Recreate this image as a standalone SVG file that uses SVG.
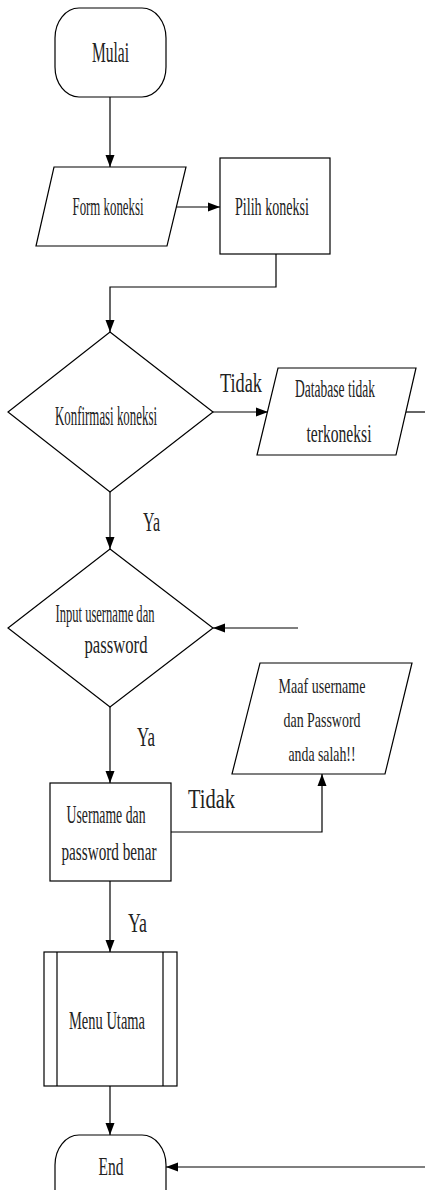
<svg xmlns="http://www.w3.org/2000/svg" width="425" height="1190" viewBox="0 0 425 1190">
<style>
.s{fill:#fff;stroke:#000;stroke-width:1.2}
.c{fill:none;stroke:#000;stroke-width:1.2}
text{font-family:"Liberation Serif","Times New Roman",serif;fill:#222;text-anchor:middle}
</style>
<defs>
<marker id="ah" markerUnits="userSpaceOnUse" markerWidth="12" markerHeight="12" viewBox="0 0 12 12" refX="12" refY="6" orient="auto">
<path d="M0,1.5 L12,6 L0,10.5 Z" fill="#000"/>
</marker>
</defs>
<rect width="425" height="1190" fill="#fff"/>
<g id="connectors">
<path class="c" d="M110,97 V167" marker-end="url(#ah)"/>
<path class="c" d="M176,207 H220" marker-end="url(#ah)"/>
<path class="c" d="M276,254 V287 H110 V332" marker-end="url(#ah)"/>
<path class="c" d="M213,412 H268" marker-end="url(#ah)"/>
<path class="c" d="M406,412 H425"/>
<path class="c" d="M110,492 V549" marker-end="url(#ah)"/>
<path class="c" d="M298,628 H213" marker-end="url(#ah)"/>
<path class="c" d="M110,707 V783" marker-end="url(#ah)"/>
<path class="c" d="M171,832 H322 V774" marker-end="url(#ah)"/>
<path class="c" d="M110,881 V952" marker-end="url(#ah)"/>
<path class="c" d="M110,1086 V1135" marker-end="url(#ah)"/>
<path class="c" d="M425,1167 H166" marker-end="url(#ah)"/>
<text x="241" y="392" font-size="28" textLength="42" lengthAdjust="spacingAndGlyphs">Tidak</text>
<text x="151.5" y="531" font-size="27" textLength="17" lengthAdjust="spacingAndGlyphs">Ya</text>
<text x="146" y="746" font-size="27" textLength="18" lengthAdjust="spacingAndGlyphs">Ya</text>
<text x="211.5" y="808" font-size="28" textLength="47" lengthAdjust="spacingAndGlyphs">Tidak</text>
<text x="137.5" y="932" font-size="27" textLength="19" lengthAdjust="spacingAndGlyphs">Ya</text>
</g>
<g id="mulai">
<rect class="s" x="55" y="8" width="111" height="89" rx="24" ry="30"/>
<text x="110.5" y="62" font-size="30" textLength="37" lengthAdjust="spacingAndGlyphs">Mulai</text>
</g>
<g id="form-koneksi">
<polygon class="s" points="54,167 186,167 167,246 36,246"/>
<text x="108" y="215" font-size="26" textLength="71" lengthAdjust="spacingAndGlyphs">Form koneksi</text>
</g>
<g id="pilih-koneksi">
<rect class="s" x="220" y="158" width="110" height="96"/>
<text x="272" y="215" font-size="26" textLength="74" lengthAdjust="spacingAndGlyphs">Pilih koneksi</text>
</g>
<g id="konfirmasi-koneksi">
<polygon class="s" points="110,332 213,412 110,492 8,412"/>
<text x="106" y="425" font-size="28" textLength="102" lengthAdjust="spacingAndGlyphs">Konfirmasi koneksi</text>
</g>
<g id="database-tidak-terkoneksi">
<polygon class="s" points="278,368 416,368 396,455 257,455"/>
<text x="335" y="397" font-size="25" textLength="80" lengthAdjust="spacingAndGlyphs">Database tidak</text>
<text x="339" y="442" font-size="25" textLength="65" lengthAdjust="spacingAndGlyphs">terkoneksi</text>
</g>
<g id="input-username">
<polygon class="s" points="110,549 213,628 110,707 8,628"/>
<text x="105" y="622" font-size="25" textLength="99" lengthAdjust="spacingAndGlyphs">Input username dan</text>
<text x="116" y="653" font-size="25" textLength="63" lengthAdjust="spacingAndGlyphs">password</text>
</g>
<g id="maaf">
<polygon class="s" points="260,663 412,663 385,774 232,774"/>
<text x="322" y="693" font-size="22" textLength="87" lengthAdjust="spacingAndGlyphs">Maaf  username</text>
<text x="322" y="727" font-size="22" textLength="77" lengthAdjust="spacingAndGlyphs">dan  Password</text>
<text x="322" y="761" font-size="22" textLength="67" lengthAdjust="spacingAndGlyphs">anda salah!!</text>
</g>
<g id="username-benar">
<rect class="s" x="50" y="783" width="121" height="98"/>
<text x="106" y="823" font-size="26" textLength="79" lengthAdjust="spacingAndGlyphs">Username dan</text>
<text x="109" y="860" font-size="26" textLength="95" lengthAdjust="spacingAndGlyphs">password benar</text>
</g>
<g id="menu-utama">
<rect class="s" x="44" y="952" width="133" height="134"/>
<line class="c" x1="57" y1="952" x2="57" y2="1086"/>
<line class="c" x1="163" y1="952" x2="163" y2="1086"/>
<text x="107" y="1029" font-size="26" textLength="76" lengthAdjust="spacingAndGlyphs">Menu Utama</text>
</g>
<g id="end">
<rect class="s" x="55" y="1135" width="111" height="89" rx="24" ry="30"/>
<text x="111" y="1175" font-size="26" textLength="25" lengthAdjust="spacingAndGlyphs">End</text>
</g>
</svg>
